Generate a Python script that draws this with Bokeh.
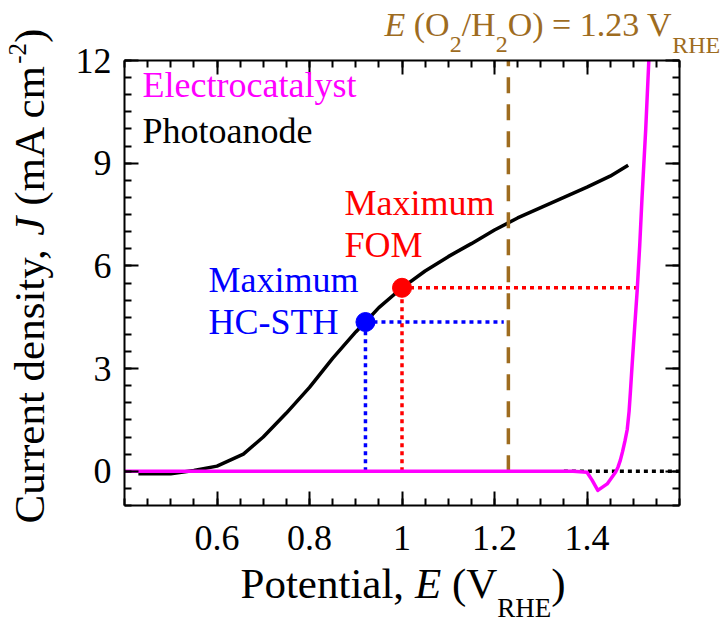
import math
from bokeh.plotting import figure
from bokeh.models import (Range1d, LinearAxis, FixedTicker, CustomJSTickFormatter,
                          CustomLabelingPolicy, Label)
from bokeh.embed import file_html
from bokeh.resources import INLINE

# ---- data -------------------------------------------------------------
# Photoanode J-E curve (mA cm^-2 vs V_RHE)
photo_E = [0.43, 0.50, 0.55, 0.60, 0.657, 0.70, 0.75, 0.80, 0.85, 0.90, 0.921,
           0.95, 1.00, 1.05, 1.10, 1.15, 1.20, 1.25, 1.30, 1.35, 1.40, 1.45, 1.489]
photo_J = [-0.07, -0.07, 0.02, 0.15, 0.50, 1.00, 1.70, 2.45, 3.30, 4.07, 4.36,
           4.78, 5.36, 5.85, 6.27, 6.65, 7.05, 7.40, 7.70, 8.00, 8.30, 8.62, 8.94]

# Electrocatalyst (OER) J-E curve, up to the top of the J window
elec_E = [0.40, 1.30, 1.37, 1.40, 1.411, 1.4234, 1.4436, 1.4616, 1.467, 1.472,
          1.477, 1.482, 1.487, 1.491, 1.494, 1.4977, 1.503, 1.5085, 1.514, 1.519,
          1.527, 1.5337]
elec_J = [0.00, 0.00, 0.00, -0.03, -0.26, -0.56, -0.37, -0.03, 0.12, 0.32,
          0.58, 0.88, 1.22, 1.75, 2.35, 3.14, 4.20, 5.28, 6.60, 8.00,
          10.0, 12.0]

# operating points
fom_E, fom_J = 1.00, 5.36        # maximum FOM
sth_E, sth_J = 0.921, 4.36       # maximum HC-STH
fom_cross_E = 1.5085             # electrocatalyst reaches the FOM current
sth_line_end_E = 1.22
E_O2 = 1.23                      # E(O2/H2O)
zero_line_E = [1.35, 1.60]

# axes
x_major_ticks = [0.6, 0.8, 1.0, 1.2, 1.4]
x_minor_ticks = [round(0.40 + 0.05 * i, 2) for i in range(25)]
y_major_ticks = [0, 3, 6, 9, 12]
y_minor_ticks = [-1 + 0.5 * i for i in range(27)]

MAGENTA = "#FF00FF"
BROWN = "#9E6C1F"
FONT = "Liberation Serif"

# ---- figure -----------------------------------------------------------
W, H = 721, 624
L, R, T, B = 124, 42, 60, 119          # margins around the axes box (px)
X0, X1, Y0, Y1 = 0.4, 1.6, -1.0, 12.0  # axes box limits

XS = (W - L - R) / (X1 - X0)
YS = (H - T - B) / (Y1 - Y0)

# the frame spans the whole canvas; the axes are pinned to the box edges
p = figure(width=W, height=H,
           x_range=Range1d(X0 - L / XS, X1 + R / XS),
           y_range=Range1d(Y0 - B / YS, Y1 + T / YS),
           output_backend="svg", toolbar_location=None,
           min_border=0, min_border_left=0, min_border_right=0,
           min_border_top=0, min_border_bottom=0,
           background_fill_color="white", border_fill_color="white",
           outline_line_color=None)
p.grid.visible = False


def to_data(px, py):
    return X0 + (px - L) / XS, Y1 - (py - T) / YS


def style_axis(ax):
    ax.axis_line_width = 2
    ax.axis_line_color = "black"
    ax.major_tick_line_width = 2
    ax.minor_tick_line_width = 2
    ax.major_tick_in = 14
    ax.major_tick_out = 0
    ax.minor_tick_in = 7
    ax.minor_tick_out = 0
    ax.major_label_text_font = FONT
    ax.major_label_text_font_size = "36px"
    ax.major_label_text_color = "black"


xticker = FixedTicker(ticks=x_major_ticks, minor_ticks=x_minor_ticks)
yticker = FixedTicker(ticks=y_major_ticks, minor_ticks=y_minor_ticks)
xfmt = CustomJSTickFormatter(code="return String(Math.round(tick * 10) / 10);")

xa = p.xaxis[0]
xa.ticker = xticker
xa.formatter = xfmt
style_axis(xa)
xa.major_label_standoff = 20
xa.fixed_location = Y0
xa.bounds = (X0, X1)

ya = p.yaxis[0]
ya.ticker = yticker
style_axis(ya)
ya.major_label_standoff = 13
ya.fixed_location = X0
ya.bounds = (Y0, Y1)

no_labels = "return new Set()"
top = LinearAxis(ticker=xticker, major_label_policy=CustomLabelingPolicy(code=no_labels),
                 fixed_location=Y1, bounds=(X0, X1))
right = LinearAxis(ticker=yticker, major_label_policy=CustomLabelingPolicy(code=no_labels),
                   fixed_location=X1, bounds=(Y0, Y1))
style_axis(top)
style_axis(right)
p.add_layout(top, "above")
p.add_layout(right, "right")

# ---- marks ------------------------------------------------------------
p.line(photo_E, photo_J, line_color="black", line_width=3.5)

# guide lines from the two operating points
p.line([fom_E, fom_E], [0, fom_J], line_color="red", line_width=3.5, line_dash="4 4")
p.line([fom_E, fom_cross_E], [fom_J, fom_J], line_color="red", line_width=3.5, line_dash="4 4")
p.line([sth_E, sth_E], [0, sth_J], line_color="blue", line_width=3.5, line_dash="4 4")
p.line([sth_E, sth_line_end_E], [sth_J, sth_J], line_color="blue", line_width=3.5, line_dash="4 4")

# thermodynamic water-oxidation potential
p.line([E_O2, E_O2], [0, Y1], line_color=BROWN, line_width=3.5, line_dash="16 11")

# zero-current reference
p.line(zero_line_E, [0, 0], line_color="black", line_width=3.5, line_dash="4 4")

p.line(elec_E, elec_J, line_color=MAGENTA, line_width=3.5, line_join="round")

p.scatter([sth_E], [sth_J], size=19, color="blue")
p.scatter([fom_E], [fom_J], size=19, color="red")

# ---- text -------------------------------------------------------------
W_REG = {' ': 250, '(': 333, ')': 333, ',': 250, '.': 250, '-': 333, '/': 278, '=': 564,
         'A': 722, 'C': 667, 'E': 611, 'F': 556, 'H': 722, 'M': 889, 'O': 722, 'P': 556,
         'R': 667, 'S': 556, 'T': 611, 'V': 722, 'J': 389,
         'a': 444, 'c': 444, 'd': 500, 'e': 444, 'h': 500, 'i': 278, 'l': 278, 'm': 778,
         'n': 500, 'o': 500, 'p': 500, 'r': 333, 's': 389, 't': 278, 'u': 500, 'x': 500,
         'y': 500}
W_IT = {'E': 611, 'J': 444}
BASE_FIX = 0.34   # baseline correction of the label text box (fraction of font size)


def text_width(s, size, italic=False):
    tbl = W_IT if italic else W_REG
    return sum(tbl.get(ch, W_REG.get(ch, 500)) for ch in s) * size / 1000.0


def draw_runs(px, py, runs, color, vertical=False):
    """Lay out (text, size, italic, shift) runs along one baseline."""
    for s, size, italic, shift in runs:
        lead = len(s) - len(s.lstrip(' '))
        pre = text_width(' ' * lead, size)
        lift = shift + BASE_FIX * size
        if vertical:
            x, y = to_data(px - lift, py - pre)
        else:
            x, y = to_data(px + pre, py - lift)
        p.add_layout(Label(x=x, y=y, text=s.strip(), text_font=FONT,
                           text_font_size=f"{size}px",
                           text_font_style="italic" if italic else "normal",
                           text_color=color, text_align="left",
                           text_baseline="alphabetic",
                           angle=math.pi / 2 if vertical else 0))
        w = text_width(s, size, italic)
        if vertical:
            py -= w
        else:
            px += w


draw_runs(142, 97, [("Electrocatalyst", 36, False, 0)], MAGENTA)
draw_runs(142, 143, [("Photoanode", 36, False, 0)], "black")
draw_runs(344, 215, [("Maximum", 36, False, 0)], "red")
draw_runs(344, 257, [("FOM", 36, False, 0)], "red")
draw_runs(208, 292, [("Maximum", 36, False, 0)], "blue")
draw_runs(208, 334, [("HC-STH", 36, False, 0)], "blue")

draw_runs(384, 36, [("E", 34, True, 0), (" (O", 34, False, 0), ("2", 24, False, -16),
                    ("/H", 34, False, 0), ("2", 24, False, -16),
                    ("O) = 1.23 V", 34, False, 0), ("RHE", 24, False, -17)], BROWN)

draw_runs(240, 598, [("Potential, ", 43, False, 0), ("E", 43, True, 0), (" (V", 43, False, 0),
                     ("RHE", 27, False, -19), (")", 43, False, 0)], "black")

draw_runs(44, 523, [("Current density, ", 43, False, 0), ("J", 43, True, 0),
                    (" (mA cm", 43, False, 0), ("-2", 25, False, 19), (")", 43, False, 0)],
          "black", vertical=True)

open("out.html", "w").write(file_html(p, INLINE))
